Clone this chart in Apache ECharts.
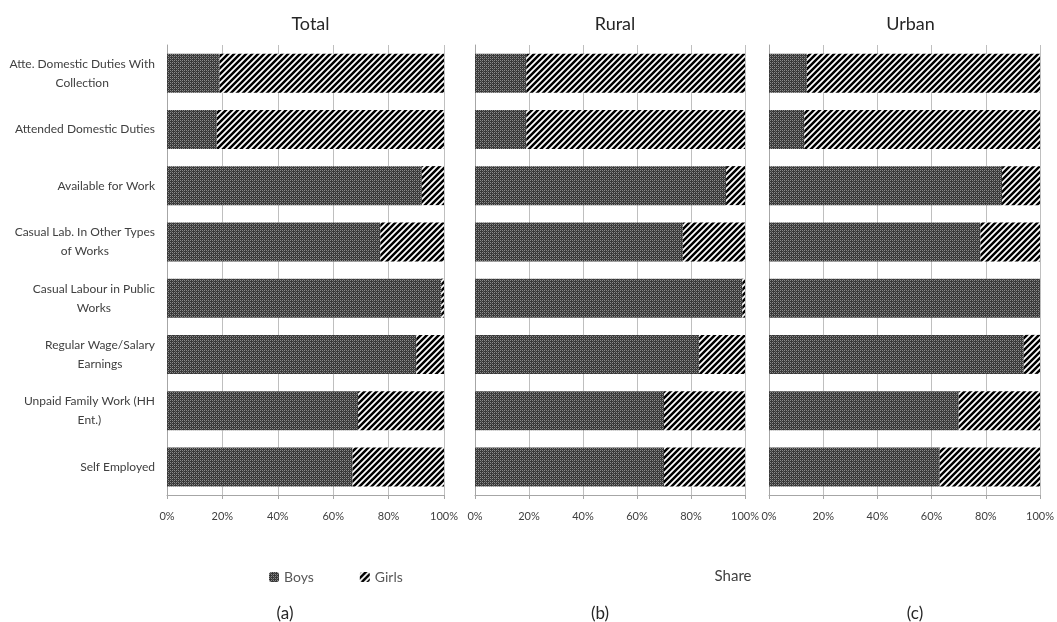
<!DOCTYPE html>
<html>
<head>
<meta charset="utf-8">
<script src="https://cdn.jsdelivr.net/npm/echarts@6/dist/echarts.min.js"></script>
<style>html,body{margin:0;padding:0;background:#fff;}#main{width:1057px;height:622px;}</style>
</head>
<body>
<div id="main"></div>
<script>
// ---- data ----
var categories = ["Atte. Domestic Duties With Collection","Attended Domestic Duties","Available for Work","Casual Lab. In Other Types of Works","Casual Labour in Public Works","Regular Wage/Salary Earnings","Unpaid Family Work (HH Ent.)","Self Employed"];
var yTickLabels = ["Atte. Domestic Duties With\nCollection","Attended Domestic Duties","Available for Work","Casual Lab. In Other Types\nof Works","Casual Labour in Public\nWorks","Regular Wage/Salary\nEarnings","Unpaid Family Work (HH\nEnt.)","Self Employed"];
var panelTitles = ["Total","Rural","Urban"];
var panelTags = ["(a)","(b)","(c)"];
var totalBoys = [19,18,92,77,99,90,69,67];
var totalGirls = [81,82,8,23,1,10,31,33];
var ruralBoys = [19,19,93,77,99,83,70,70];
var ruralGirls = [81,81,7,23,1,17,30,30];
var urbanBoys = [14,13,86,78,100,94,70,63];
var urbanGirls = [86,87,14,22,0,6,30,37];
var xTicks = [0,20,40,60,80,100];

// ---- patterns ----
function boysPattern(){
  var c=document.createElement('canvas');c.width=4;c.height=4;
  var g=c.getContext('2d');
  g.fillStyle='#383838';g.fillRect(0,0,4,4);
  g.fillStyle='#8c8c8c';
  g.fillRect(0,0,1,1);g.fillRect(2,2,1,1);g.fillRect(2,0,1,1);g.fillRect(0,2,1,1);
  g.fillStyle='#5e5e5e';
  g.fillRect(1,1,1,1);g.fillRect(3,3,1,1);
  return c;
}
function girlsPattern(){
  var s=6;
  var c=document.createElement('canvas');c.width=s;c.height=s;
  var g=c.getContext('2d');
  g.fillStyle='#fff';g.fillRect(0,0,s,s);
  g.strokeStyle='#000';g.lineWidth=2.5;
  g.beginPath();
  g.moveTo(-s,2*s);g.lineTo(2*s,-s);
  g.moveTo(-2*s,2*s);g.lineTo(s,-s);
  g.moveTo(0,2*s);g.lineTo(3*s,-s);
  g.stroke();
  return c;
}
var boysFill={image:boysPattern(),repeat:'repeat'};
var girlsFill={image:girlsPattern(),repeat:'repeat'};

var grids=[
  {left:167,width:277,top:45,height:450},
  {left:475,width:270,top:45,height:450},
  {left:769,width:273,top:45,height:450}
];
var boysData=[totalBoys,ruralBoys,urbanBoys];
var girlsData=[totalGirls,ruralGirls,urbanGirls];

var xAxes=[],yAxes=[],series=[],titles=[];
grids.forEach(function(gr,i){
  xAxes.push({gridIndex:i,type:'value',min:0,max:100,interval:20,
    axisLine:{show:true,lineStyle:{color:'#a6a6a6'}},
    axisTick:{show:true,length:4,lineStyle:{color:'#a6a6a6'}},
    splitLine:{show:true,lineStyle:{color:'#bfbfbf'}},
    axisLabel:{formatter:'{value}%',color:'#404040',fontFamily:'Lato',fontSize:11,margin:16,showMaxLabel:true,showMinLabel:true}
  });
  yAxes.push({gridIndex:i,type:'category',data:categories,inverse:true,
    axisLine:{show:true,lineStyle:{color:'#a6a6a6'}},
    axisTick:{show:false},
    axisLabel:{show:i===0,color:'#404040',fontFamily:'Lato',fontSize:12,lineHeight:19,margin:12,align:'right',
      formatter:function(v,idx){
        return yTickLabels[idx].split('\n').map(function(l){return '{c|'+l+'}';}).join('\n');
      },
      rich:{c:{align:'center',fontFamily:'Lato',fontSize:12,lineHeight:19,color:'#404040'}}
    }
  });
  series.push({name:'Boys',type:'bar',xAxisIndex:i,yAxisIndex:i,stack:'s'+i,data:boysData[i],barWidth:39,
    itemStyle:{color:boysFill},emphasis:{disabled:true}});
  series.push({name:'Girls',type:'bar',xAxisIndex:i,yAxisIndex:i,stack:'s'+i,data:girlsData[i],barWidth:39,
    itemStyle:{color:girlsFill},emphasis:{disabled:true}});
  titles.push({text:panelTitles[i],left:gr.left+gr.width/2,top:10,textAlign:'center',
    textStyle:{fontFamily:'Lato',fontSize:18,fontWeight:'normal',color:'#262626'}});
});
var tagX=[280,595,910];
panelTags.forEach(function(t,i){
  titles.push({text:t,left:tagX[i],top:600,textAlign:'center',
    textStyle:{fontFamily:'Lato',fontSize:17,fontWeight:'normal',color:'#262626'}});
});
titles.push({text:'Share',left:728,top:564,textAlign:'center',
  textStyle:{fontFamily:'Lato',fontSize:15,fontWeight:'normal',color:'#404040'}});

var chart=echarts.init(document.getElementById('main'),null,{renderer:'canvas'});
chart.setOption({
  animation:false,
  backgroundColor:'#fff',
  title:titles,
  legend:{data:['Boys','Girls'],left:264,top:565,itemWidth:10,itemHeight:10,itemGap:46,
    textStyle:{fontFamily:'Lato',fontSize:14,color:'#595959'},selectedMode:false},
  grid:grids,
  xAxis:xAxes,
  yAxis:yAxes,
  series:series
});
</script>
</body>
</html>
